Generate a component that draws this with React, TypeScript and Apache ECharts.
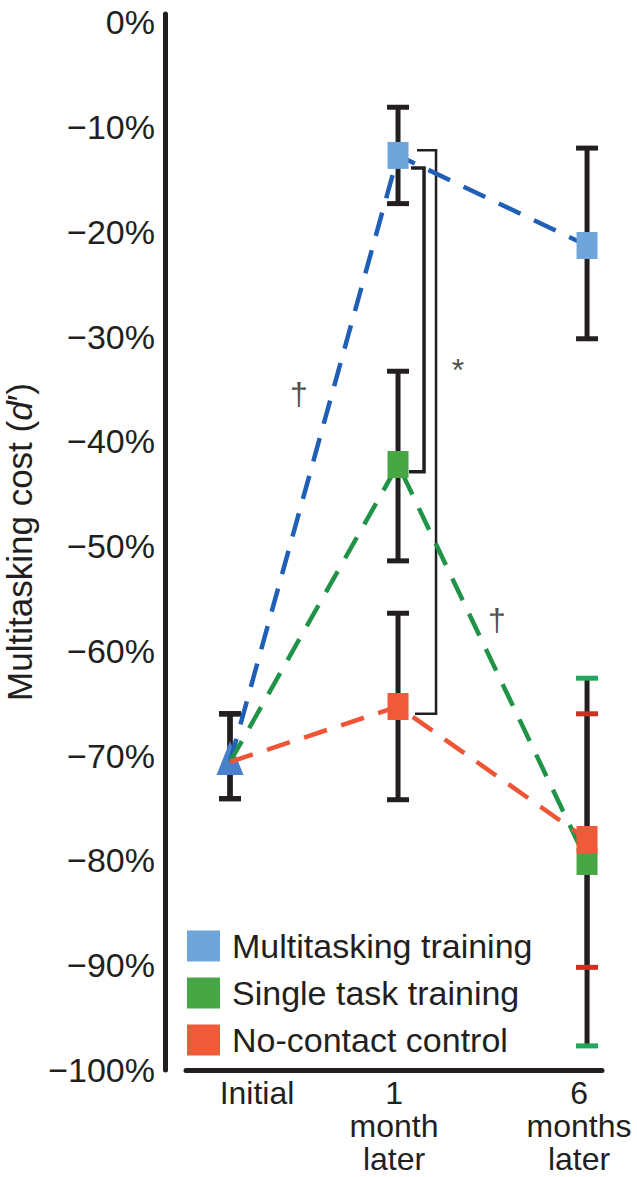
import React, { useEffect, useRef } from 'react';
import * as echarts from 'echarts';

// ---- data ----
const timeLabels = ['Initial', '1\nmonth\nlater', '6\nmonths\nlater'];
const timePos = [0, 1, 2.125];
const yTicks = [0, -10, -20, -30, -40, -50, -60, -70, -80, -90, -100];

const groupNames = ['Multitasking training', 'Single task training', 'No-contact control'];

const multiMean = [-70.6, -12.7, -21.3];
const multiLow = [-74.1, -17.3, -30.2];
const multiHigh = [-66.0, -8.1, -12.0];

const singleMean = [-70.6, -42.2, -80.1];
const singleLow = [-74.1, -51.4, -97.7];
const singleHigh = [-66.0, -33.3, -62.6];

const controlMean = [-70.6, -65.3, -78.0];
const controlLow = [-74.1, -74.2, -90.2];
const controlHigh = [-66.0, -56.4, -66.0];

// significance brackets at "1 month later"
const bracketTime = 1;
const bracketFrom = [-13.9, -12.2];
const bracketTo = [-42.9, -66.0];

// annotation marks
const noteText = ['*', '\u2020', '\u2020'];
const noteX = [1.357, 0.41, 1.589];
const noteY = [-33.2, -35.5, -57.0];

// ---- styles ----
const INK = '#231f20';
const FONT = '"Liberation Sans", Arial, Helvetica, sans-serif';
const markerColors = ['#6fa5da', '#46a744', '#f15a38'];
const lineColors = ['#1f5fb5', '#1f9447', '#ef5535'];
const capColors = [
  [INK, INK, INK],
  [INK, INK, '#22a85a'],
  [INK, INK, '#c8321e'],
];
const triangleColor = '#4a7fcd';
const bracketStyles = [
  { x0: 13, xv: 26, w: 3.5 },
  { x0: 19, xv: 38, w: 2.5 },
];
const labelShift = [
  [0, 0, 0, 54],
  [0, 8, 0, 0],
  [0, 16, 0, 0],
];

const means = [multiMean, singleMean, controlMean];
const lows = [multiLow, singleLow, controlLow];
const highs = [multiHigh, singleHigh, controlHigh];

export default function App() {
  const ref = useRef<HTMLDivElement>(null);
  useEffect(() => {
    if (!ref.current) return;
    const chart = echarts.init(ref.current, undefined, { renderer: 'svg' });

    const errorSeries = [0, 1, 2].map((g) => ({
      type: 'custom',
      name: 'err' + g,
      z: 1 + g * 0.01,
      silent: true,
      encode: { x: 0, y: [1, 2] },
      data: timePos.map((x, i) => [x, lows[g][i], highs[g][i]]),
      renderItem: (params: any, api: any) => {
        const x = api.value(0);
        const pLo = api.coord([x, api.value(1)]);
        const pHi = api.coord([x, api.value(2)]);
        const cw = 11;
        const cc = capColors[g][params.dataIndex];
        return {
          type: 'group',
          children: [
            { type: 'line', shape: { x1: pLo[0], y1: pLo[1], x2: pHi[0], y2: pHi[1] }, style: { stroke: INK, lineWidth: 5 } },
            { type: 'line', shape: { x1: pHi[0] - cw, y1: pHi[1], x2: pHi[0] + cw, y2: pHi[1] }, style: { stroke: cc, lineWidth: 5 } },
            { type: 'line', shape: { x1: pLo[0] - cw, y1: pLo[1], x2: pLo[0] + cw, y2: pLo[1] }, style: { stroke: cc, lineWidth: 5 } },
          ],
        };
      },
    }));

    const bracketSeries = {
      type: 'custom',
      name: 'brackets',
      z: 1,
      silent: true,
      encode: { x: 0, y: [1, 2] },
      data: bracketFrom.map((f, i) => [timePos[bracketTime], f, bracketTo[i]]),
      renderItem: (params: any, api: any) => {
        const x = api.value(0);
        const a = api.coord([x, api.value(1)]);
        const b = api.coord([x, api.value(2)]);
        const s = bracketStyles[params.dataIndex];
        return {
          type: 'polyline',
          shape: {
            points: [
              [a[0] + s.x0, a[1]],
              [a[0] + s.xv, a[1]],
              [b[0] + s.xv, b[1]],
              [b[0] + s.x0 - 2, b[1]],
            ],
          },
          style: { stroke: INK, lineWidth: s.w, fill: 'none' },
        };
      },
    };

    const lineSeries = [0, 1, 2].map((g) => ({
      type: 'line',
      name: groupNames[g] + ' trend',
      z: 3,
      silent: true,
      showSymbol: false,
      data: timePos.map((x, i) => [x, means[g][i]]),
      lineStyle: { color: lineColors[g], width: 4.5, type: [24, 15] },
    }));

    const markerSeries = [1, 0, 2].map((g) => ({
      type: 'scatter',
      name: groupNames[g],
      z: 4,
      silent: true,
      symbol: 'rect',
      symbolSize: [21, 27],
      itemStyle: { color: markerColors[g], opacity: 1 },
      data: timePos.slice(1).map((x, i) => [x, means[g][i + 1]]),
    }));

    const triangleSeries = {
      type: 'scatter',
      name: 'Initial',
      z: 2,
      silent: true,
      symbol: 'triangle',
      symbolSize: [27, 34],
      symbolOffset: [0, -4],
      itemStyle: { color: triangleColor, opacity: 1 },
      data: [[timePos[0], multiMean[0]]],
    };

    const noteSeries = {
      type: 'scatter',
      name: 'notes',
      z: 5,
      silent: true,
      symbolSize: 0,
      data: noteX.map((x, i) => ({ value: [x, noteY[i]], name: noteText[i] })),
      label: {
        show: true,
        position: 'inside',
        formatter: (p: any) => p.name,
        color: INK,
        fontFamily: FONT,
        fontSize: 32,
      },
    };

    const rich: any = {};
    labelShift.forEach((pad, i) => {
      rich['t' + i] = { padding: pad, fontSize: 32, lineHeight: 33, color: INK, fontFamily: FONT, align: 'center' };
    });

    chart.setOption({
      animation: false,
      backgroundColor: '#ffffff',
      grid: { left: 186, right: 35, top: 14, bottom: 107, containLabel: false, outerBoundsMode: 'none' },
      xAxis: {
        type: 'value',
        min: -0.262,
        max: 2.214,
        axisLine: { show: true, onZero: false, lineStyle: { color: INK, width: 5 } },
        axisTick: { show: false },
        splitLine: { show: false },
        axisLabel: {
          customValues: timePos,
          margin: 6,
          hideOverlap: false,
          formatter: (v: number) => {
            const i = timePos.findIndex((t) => Math.abs(t - v) < 1e-6);
            if (i < 0) return '';
            return timeLabels[i].split('\n').map((l) => `{t${i}|${l}}`).join('\n');
          },
          rich,
        },
      },
      yAxis: {
        type: 'value',
        min: -100,
        max: 0.8,
        offset: 21,
        name: 'Multitasking cost ({i|d}\u2032)',
        nameLocation: 'middle',
        nameGap: 113,
        nameTextStyle: {
          fontSize: 35,
          color: INK,
          fontFamily: FONT,
          rich: { i: { fontSize: 35, fontStyle: 'italic', color: INK, fontFamily: FONT } },
        },
        axisLine: { show: true, onZero: false, lineStyle: { color: INK, width: 5 } },
        axisTick: { show: false },
        splitLine: { show: false },
        axisLabel: {
          customValues: yTicks,
          margin: 10,
          fontSize: 34,
          color: INK,
          fontFamily: FONT,
          formatter: (v: number) => (v === 0 ? '0%' : '\u2212' + Math.abs(v) + '%'),
        },
      },
      legend: {
        data: groupNames,
        orient: 'vertical',
        left: 187,
        top: 929,
        padding: 0,
        icon: 'rect',
        itemWidth: 33,
        itemHeight: 31,
        itemGap: 13,
        selectedMode: false,
        textStyle: { fontSize: 34, lineHeight: 25, color: INK, fontFamily: FONT, padding: [0, 0, 6, 7] },
      },
      series: [...errorSeries, bracketSeries, triangleSeries, ...lineSeries, ...markerSeries, noteSeries],
    });

    return () => chart.dispose();
  }, []);

  return <div ref={ref} style={{ position: 'fixed', left: 0, top: 0, width: 637, height: 1177, background: '#fff' }} />;
}
